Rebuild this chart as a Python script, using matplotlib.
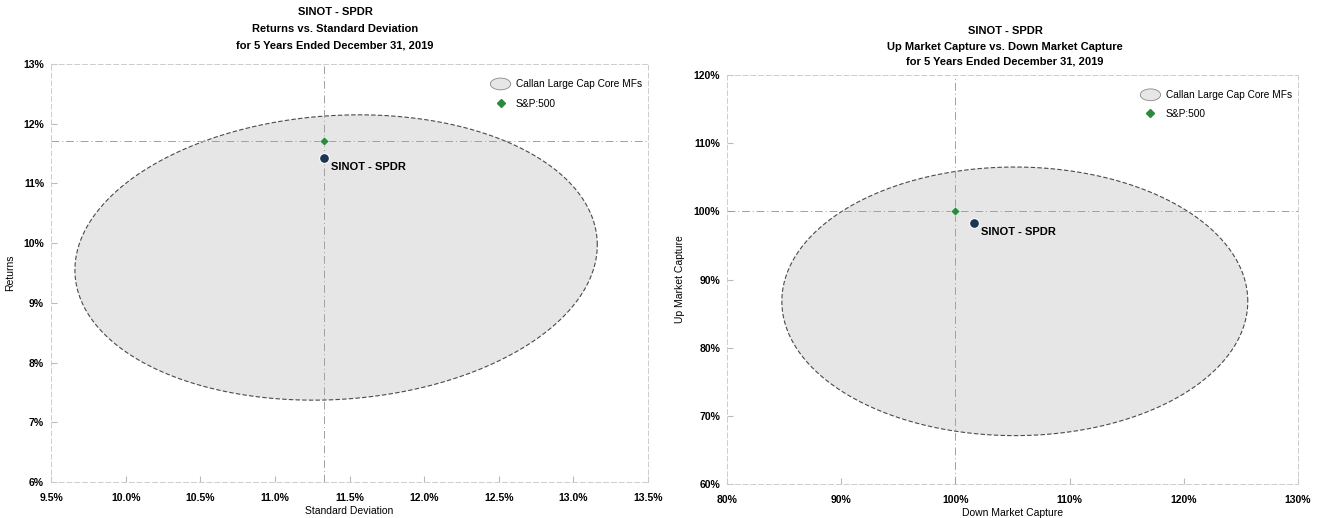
import matplotlib
matplotlib.use("Agg")
import numpy as np
import matplotlib.pyplot as plt
from matplotlib.patches import Ellipse, Polygon
from matplotlib.lines import Line2D
from matplotlib.legend_handler import HandlerPatch
from matplotlib.ticker import FuncFormatter

plt.rcParams['font.family'] = ['Liberation Sans', 'DejaVu Sans']

# left chart: returns vs standard deviation
sd_ticks = [9.5, 10.0, 10.5, 11.0, 11.5, 12.0, 12.5, 13.0, 13.5]
ret_ticks = [6, 7, 8, 9, 10, 11, 12, 13]
sinot_sd, sinot_ret = 11.33, 11.43
sp_sd, sp_ret = 11.33, 11.71
# peer group ellipse: center x, center y, width, height, tilt (y per x)
peer_risk = [11.41, 9.76, 3.50, 4.76, 0.12]

# right chart: up vs down market capture
down_ticks = [80, 90, 100, 110, 120, 130]
up_ticks = [60, 70, 80, 90, 100, 110, 120]
sinot_down, sinot_up = 101.6, 98.3
sp_down, sp_up = 100.0, 100.0
peer_capture = [105.2, 86.8, 40.8, 39.4, 0.0]

NAVY = '#1c3553'
GREEN = '#2b8a3e'
FILL = '#e6e6e6'
EDGE = '#4a4a4a'


class EllipseHandler(HandlerPatch):
    def create_artists(self, legend, orig_handle, xdescent, ydescent,
                       width, height, fontsize, trans):
        e = Ellipse((width / 2 - xdescent, height / 2 - ydescent),
                    width * 1.0, height * 1.3, facecolor=FILL,
                    edgecolor='#888888', lw=0.6)
        e.set_transform(trans)
        return [e]


def draw_panel(ax, ell, sp, sinot, xlim, ylim, xt, yt, xfmt, xlabel, ylabel):
    cx, cy, w, h, tilt = ell
    t = np.linspace(0, 2 * np.pi, 300)
    dx = w / 2 * np.cos(t)
    pts = np.column_stack([cx + dx, cy + h / 2 * np.sin(t) + tilt * dx])
    ax.add_patch(Polygon(pts, closed=True, facecolor=FILL, edgecolor=EDGE,
                         lw=0.8, ls=(0, (4, 2)), zorder=1))
    ax.axhline(sp[1], color='#a0a0a0', lw=0.7, ls=(0, (8, 3, 1, 3)), zorder=2)
    ax.axvline(sp[0], color='#a0a0a0', lw=0.7, ls=(0, (8, 3, 1, 3)), zorder=2)
    ax.scatter([sp[0]], [sp[1]], marker='D', s=22, color=GREEN,
               edgecolor='white', lw=0.4, zorder=5)
    ax.scatter([sinot[0]], [sinot[1]], marker='o', s=50, color=NAVY,
               edgecolor='white', lw=0.8, zorder=5)
    ax.annotate('SINOT - SPDR', (sinot[0], sinot[1]), xytext=(5, -9),
                textcoords='offset points', fontsize=8, fontweight='bold',
                zorder=6)
    ax.set_xlim(*xlim)
    ax.set_ylim(*ylim)
    ax.set_xticks(xt)
    ax.set_yticks(yt)
    ax.xaxis.set_major_formatter(FuncFormatter(xfmt))
    ax.yaxis.set_major_formatter(FuncFormatter(lambda v, p: '%d%%' % v))
    ax.tick_params(direction='in', length=4, color='#bbbbbb', labelsize=7.5)
    ax.tick_params(axis='x', pad=8)
    ax.tick_params(axis='y', pad=5)
    for lab in ax.get_xticklabels() + ax.get_yticklabels():
        lab.set_fontweight('bold')
    for s in ax.spines.values():
        s.set_color('#cccccc')
        s.set_linestyle((0, (5, 3)))
        s.set_linewidth(0.7)
    ax.set_xlabel(xlabel, fontsize=7.5, labelpad=2)
    ax.set_ylabel(ylabel, fontsize=7.5, labelpad=6)
    handles = [Ellipse((0, 0), 1, 1), Line2D([], [], marker='D', ls='none',
                                            color=GREEN, markersize=4.5)]
    ax.legend(handles, ['Callan Large Cap Core MFs', 'S&P:500'],
              handler_map={Ellipse: EllipseHandler()}, loc='upper right',
              bbox_to_anchor=(1.005, 0.985), frameon=False, fontsize=7.3,
              handlelength=2.0, handleheight=1.0, labelspacing=0.9,
              handletextpad=0.5)


fig = plt.figure(figsize=(13.19, 5.18), dpi=100)
ax1 = fig.add_axes([0.0387, 0.0695, 0.4526, 0.8069])
ax2 = fig.add_axes([0.5512, 0.0656, 0.4329, 0.7896])

draw_panel(ax1, peer_risk, (sp_sd, sp_ret), (sinot_sd, sinot_ret),
           (9.5, 13.5), (6, 13), sd_ticks, ret_ticks,
           lambda v, p: '%.1f%%' % v, 'Standard Deviation', 'Returns')
draw_panel(ax2, peer_capture, (sp_down, sp_up), (sinot_down, sinot_up),
           (80, 130), (60, 120), down_ticks, up_ticks,
           lambda v, p: '%d%%' % v, 'Down Market Capture', 'Up Market Capture')

left_title = ['SINOT - SPDR', 'Returns vs. Standard Deviation',
              'for 5 Years Ended December 31, 2019']
right_title = ['SINOT - SPDR', 'Up Market Capture vs. Down Market Capture',
               'for 5 Years Ended December 31, 2019']
for i, t in enumerate(left_title):
    fig.text(335 / 1319, 1 - (12 + 16.5 * i) / 518, t, ha='center',
             va='center', fontsize=8, fontweight='bold')
for i, t in enumerate(right_title):
    fig.text(1005 / 1319, 1 - (31 + 15.5 * i) / 518, t, ha='center',
             va='center', fontsize=8, fontweight='bold')

fig.savefig('out.png', dpi=100)
